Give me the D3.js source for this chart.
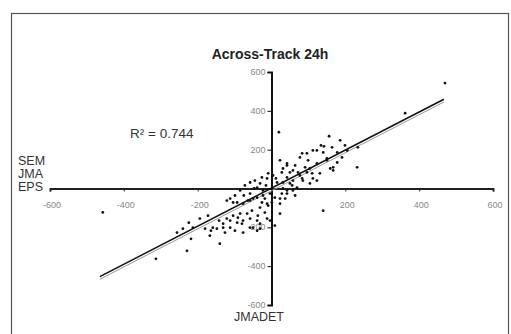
<!DOCTYPE html>
<html>
<head>
<meta charset="utf-8">
<script src="https://cdn.jsdelivr.net/npm/d3@7"></script>
<style>
  body { margin: 0; background: #fff; }
  svg { display: block; font-family: Arial, "Liberation Sans", sans-serif; }
</style>
</head>
<body>
<div id="chart"></div>
<script>
// JMA DET (x) vs SEM JMA EPS (y), across-track error 24h
var pointsX = [-457, -313, -229, -218, -256, -240, -224, -194, -172, -180, -164, -142, -140, 470, 362, 232, 234, 140, 20, 199,
  156, 134, 142, 164, 112, 96, 83, 77, 99, 123, 91, 64, 42, 31, 50, 72, 131, 159, 178, 205,
  167, 191, 150, 110, 85, 104, 112, 58, 42, 69, 123, 150, 23, 42, 58, -9, 4, -26, -45, -58,
  -72, -85, -99, -112, -121, -104, -77, -64, -39, -23, -4, -31, -12, 1, 23, 42, 58, 31, 9, -53,
  -66, -91, -80, -58, -39, -112, -131, -159, -213, -167, 83, 96, 123, -93, -58, -26, -9, -85, -104, -121,
  -131, -148, -112, -93, -77, -58, -37, -18, -12, -31, -50, -39, -31, -77, -99, -126, -18, 31, 50, 42,
  28, 37, 64, 23, -23, -39, -58, -50, 15, -12, 23, -4, 9, 167, 140, 178, 104, 77, 56, 186,
  -75, -47, -31, -15, 12, 28];
var pointsY = [-123, -362, -321, -259, -227, -207, -176, -155, -140, -207, -217, -165, -284, 543, 388, 109, 212, -114, 290, 222,
  269, 222, 217, 212, 196, 181, 181, 160, 145, 129, 109, 119, 129, 103, 83, 83, 78, 103, 134, 196,
  93, 160, 155, 78, 41, 26, 52, 41, 57, 5, 196, 145, 145, 119, 93, 78, 67, 57, 41, 31,
  16, -10, -36, -52, -62, -72, -78, -62, -47, -36, -26, -98, -78, -72, -52, -26, -10, 0, -47, -114,
  -129, -150, -181, -202, -165, -165, -202, -202, -202, -243, 52, 83, 41, -72, -62, -72, -88, -129, -140, -155,
  -181, -207, -202, -176, -165, -155, -140, -124, -155, -181, -202, -217, -207, -227, -217, -227, -52, 31, 26, -10,
  -26, -52, -36, -78, -10, 5, -26, -52, 31, 52, -129, -165, -191, 109, 186, 186, 103, 67, 16, 248,
  -36, 0, 26, 16, 52, 83];

var fitSlope = 0.98, fitIntercept = 2, fitRange = [-465, 467];
var fit2Slope = 0.98, fit2Intercept = -12;
var xTicks = [-600, -400, -200, 200, 400, 600];
var yTicks = [600, 400, 200, -200, -400, -600];
var legendLines = ["SEM", "JMA", "EPS"];
var title = "Across-Track 24h";
var r2Label = "R² = 0.744";
var xLabel = "JMADET";

var width = 511, height = 334;

var svg = d3.select("#chart").append("svg")
  .attr("width", width)
  .attr("height", height);

// outer frame
svg.append("rect")
  .attr("x", 11.5).attr("y", 13.5)
  .attr("width", 497).attr("height", 330)
  .style("fill", "none")
  .style("stroke", "#555")
  .style("stroke-width", 1.2);

var x = d3.scaleLinear().domain([-600, 600]).range([50, 493]);
var y = d3.scaleLinear().domain([-600, 600]).range([305, 72]);

// x axis through y = 0
var xAxis = svg.append("g")
  .attr("transform", "translate(0," + y(0) + ")")
  .call(d3.axisBottom(x).tickValues([-600, -400, -200, 0, 200, 400, 600]).tickSize(3).tickFormat(""));
xAxis.select(".domain").style("stroke", "#222").style("stroke-width", 2);
xAxis.selectAll(".tick line").style("stroke", "#222");

// y axis through x = 0
var yAxis = svg.append("g")
  .attr("transform", "translate(" + x(0) + ",0)")
  .call(d3.axisLeft(y).tickValues([-600, -400, -200, 0, 200, 400, 600]).tickSize(4).tickFormat(""));
yAxis.select(".domain").style("stroke", "#111").style("stroke-width", 2);
yAxis.selectAll(".tick line").style("stroke", "#111");

// tick labels
svg.selectAll(".xlab")
  .data(xTicks)
  .enter().append("text")
  .attr("x", function (d) { return x(d) + 2; })
  .attr("y", y(0) + 19)
  .attr("text-anchor", "middle")
  .style("font-size", "9px")
  .style("fill", "#888")
  .text(function (d) { return d; });

svg.selectAll(".ylab")
  .data(yTicks)
  .enter().append("text")
  .attr("x", x(0) - 6)
  .attr("y", function (d) { return y(d) + 3; })
  .attr("text-anchor", "end")
  .style("font-size", "9px")
  .style("fill", "#888")
  .text(function (d) { return d; });

// trend lines
var line = d3.line()
  .x(function (d) { return x(d[0]); })
  .y(function (d) { return y(d[1]); });

svg.append("path")
  .datum(fitRange.map(function (v) { return [v, fit2Slope * v + fit2Intercept]; }))
  .attr("d", line)
  .style("fill", "none")
  .style("stroke", "#999")
  .style("stroke-width", 1);

svg.append("path")
  .datum(fitRange.map(function (v) { return [v, fitSlope * v + fitIntercept]; }))
  .attr("d", line)
  .style("fill", "none")
  .style("stroke", "#111")
  .style("stroke-width", 1.6);

// points
svg.selectAll("dot")
  .data(d3.range(pointsX.length))
  .enter().append("circle")
  .attr("r", 1.4)
  .attr("cx", function (i) { return x(pointsX[i]); })
  .attr("cy", function (i) { return y(pointsY[i]); })
  .style("fill", "#111");

// texts
svg.append("text")
  .attr("x", 270).attr("y", 59)
  .attr("text-anchor", "middle")
  .style("font-size", "14px")
  .style("font-weight", "bold")
  .style("fill", "#222")
  .text(title);

svg.append("text")
  .attr("x", 130).attr("y", 138)
  .style("font-size", "13.5px")
  .style("fill", "#333")
  .text(r2Label);

svg.selectAll(".leg")
  .data(legendLines)
  .enter().append("text")
  .attr("x", 18)
  .attr("y", function (d, i) { return 165 + i * 13; })
  .style("font-size", "12.5px")
  .style("fill", "#333")
  .text(function (d) { return d; });

svg.append("text")
  .attr("x", 259).attr("y", 321)
  .attr("text-anchor", "middle")
  .style("font-size", "12.5px")
  .style("fill", "#333")
  .text(xLabel);
</script>
</body>
</html>
